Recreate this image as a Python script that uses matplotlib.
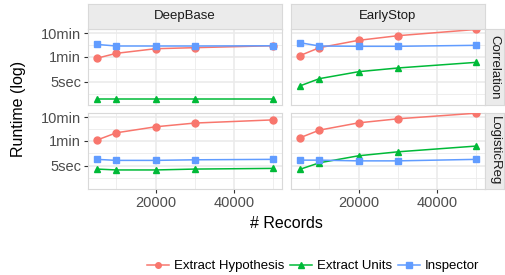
import numpy as np
import matplotlib
matplotlib.use("Agg")
import matplotlib.pyplot as plt
from matplotlib.lines import Line2D

plt.rcParams['font.family'] = ['Liberation Sans', 'DejaVu Sans']

# data (seconds)
records = [5000, 10000, 20000, 30000, 50000]
methods = ["DeepBase", "EarlyStop"]
models = ["Correlation", "LogisticReg"]
series = ["Extract Hypothesis", "Extract Units", "Inspector"]

hyp = {("Correlation", "DeepBase"): [51, 83, 131, 145, 176],
       ("Correlation", "EarlyStop"): [66, 145, 300, 473, 880],
       ("LogisticReg", "DeepBase"): [63, 130, 235, 340, 465],
       ("LogisticReg", "EarlyStop"): [79, 169, 347, 517, 900]}
units = {("Correlation", "DeepBase"): [0.88, 0.88, 0.88, 0.88, 0.88],
         ("Correlation", "EarlyStop"): [3.3, 6.8, 13.5, 19.5, 34],
         ("LogisticReg", "DeepBase"): [3.6, 3.3, 3.3, 3.6, 3.85],
         ("LogisticReg", "EarlyStop"): [3.5, 6.7, 13.4, 19.8, 35]}
insp = {("Correlation", "DeepBase"): [200, 171, 171, 171, 175],
        ("Correlation", "EarlyStop"): [237, 171, 166, 166, 183],
        ("LogisticReg", "DeepBase"): [9.4, 8.5, 8.5, 9.0, 9.4],
        ("LogisticReg", "EarlyStop"): [8.7, 8.7, 8.1, 8.1, 9.4]}

yticks = [5, 60, 600]
ylabels = ["5sec", "1min", "10min"]
xticks = [20000, 40000]

colors = ["#F8766D", "#00BA38", "#619CFF"]
markers = ["o", "^", "s"]

W, H = 505, 275
fig = plt.figure(figsize=(W / 100, H / 100), dpi=100)

def box(x0, y0, x1, y1):
    return [x0 / W, 1 - y1 / H, (x1 - x0) / W, (y1 - y0) / H]

cols = [(88, 282), (291, 485)]
rows = [(29, 105), (113, 189)]
grid_c = "#EBEBEB"
ylo, yhi = 10 ** -0.299, 10 ** 2.963

for r, model in enumerate(models):
    for c, meth in enumerate(methods):
        x0, x1 = cols[c]
        y0, y1 = rows[r]
        ax = fig.add_axes(box(x0, y0, x1, y1))
        ax.set_yscale("log")
        ax.set_xlim(2750, 52250)
        ax.set_ylim(ylo, yhi)
        # grid
        for v in [1.44, 17.3, 190]:
            ax.axhline(v, color=grid_c, lw=0.6, zorder=0)
        for v in yticks:
            ax.axhline(v, color=grid_c, lw=1.2, zorder=0)
        for v in [10000, 30000, 50000]:
            ax.axvline(v, color=grid_c, lw=0.6, zorder=0)
        for v in xticks:
            ax.axvline(v, color=grid_c, lw=1.2, zorder=0)
        key = (model, meth)
        for vals, col, mk in zip([hyp[key], units[key], insp[key]], colors, markers):
            ax.plot(records, vals, color=col, marker=mk, ms=5, lw=1.1, zorder=3,
                    clip_on=True)
        ax.minorticks_off()
        ax.set_yticks(yticks)
        ax.set_xticks(xticks)
        ax.tick_params(length=3, width=0.8, color="#333333", labelsize=10.5,
                       labelcolor="#4D4D4D", pad=2)
        if c == 0:
            ax.set_yticklabels(ylabels)
        else:
            ax.set_yticklabels([])
            ax.tick_params(axis="y", length=0)
        if r == 1:
            ax.set_xticklabels([str(v) for v in xticks])
        else:
            ax.set_xticklabels([])
            ax.tick_params(axis="x", length=0)
        for s in ax.spines.values():
            s.set_color("#D9D9D9")
            s.set_linewidth(0.8)

        # strips
        if r == 0:
            sax = fig.add_axes(box(x0, 4, x1, 29))
            sax.set_facecolor("#EBEBEB")
            sax.set_xticks([]); sax.set_yticks([])
            for s in sax.spines.values():
                s.set_color("#D9D9D9")
            sax.text(0.5, 0.5, meth, ha="center", va="center", fontsize=9.5,
                     color="#1A1A1A", transform=sax.transAxes)
        if c == 1:
            sax = fig.add_axes(box(485, y0, 504, y1))
            sax.set_facecolor("#EBEBEB")
            sax.set_xticks([]); sax.set_yticks([])
            for s in sax.spines.values():
                s.set_color("#D9D9D9")
            sax.text(0.5, 0.5, model, ha="center", va="center", fontsize=9.5,
                     rotation=-90, color="#1A1A1A", transform=sax.transAxes)

fig.text(19 / W, 1 - 109 / H, "Runtime (log)", rotation=90, ha="center",
         va="center", fontsize=11.5)
fig.text(286 / W, 1 - 223 / H, "# Records", ha="center", va="center",
         fontsize=11.5)

handles = [Line2D([], [], color=col, marker=mk, ms=4, lw=1.1)
           for col, mk in zip(colors, markers)]
fig.legend(handles, series, loc="center", bbox_to_anchor=(313 / W, 1 - 266 / H),
           ncol=3, frameon=False, fontsize=9.5, handlelength=1.7,
           handletextpad=0.35, columnspacing=0.45, borderpad=0, borderaxespad=0)

fig.savefig("out.png", dpi=100)
